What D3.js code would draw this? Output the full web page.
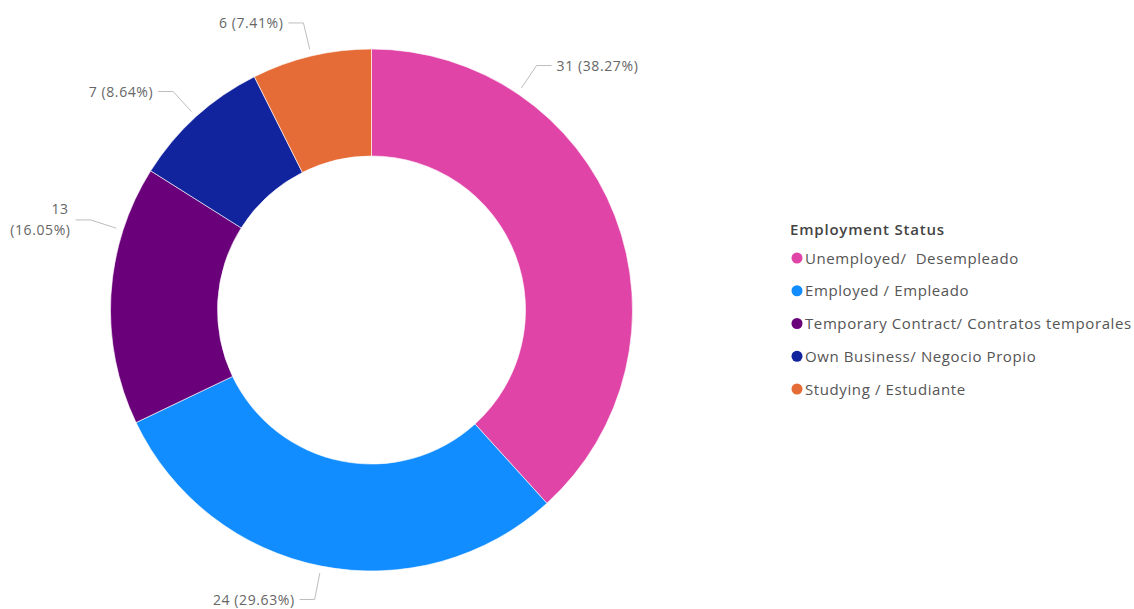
<!DOCTYPE html>
<html>
<head>
<meta charset="utf-8">
<script src="https://cdn.jsdelivr.net/npm/d3@7"></script>
<style>
  html, body { margin: 0; padding: 0; background: #fff; }
  svg { display: block; font-family: "Open Sans", "Noto Sans", sans-serif; }
</style>
</head>
<body>
<svg id="chart" width="1134" height="609"></svg>
<script>
// Employment status breakdown
const categories = [
  "Unemployed/  Desempleado",
  "Employed / Empleado",
  "Temporary Contract/ Contratos temporales",
  "Own Business/ Negocio Propio",
  "Studying / Estudiante"
];
const counts = [31, 24, 13, 7, 6];
const colors = ["#E044A7", "#118DFF", "#6B007B", "#12239E", "#E66C37"];
const legendTitle = "Employment Status";

const svg = d3.select("#chart");
const cx = 371.5, cy = 310;
const outerR = 261, innerR = 154;

const total = d3.sum(counts);
const data = categories.map((c, i) => ({ name: c, value: counts[i], color: colors[i] }));

const pie = d3.pie().value(d => d.value).sort(null);
const arcs = pie(data);
const arc = d3.arc().innerRadius(innerR).outerRadius(outerR);

const g = svg.append("g").attr("transform", `translate(${cx},${cy})`);

g.selectAll("path.slice")
  .data(arcs)
  .join("path")
  .attr("class", "slice")
  .attr("d", arc)
  .attr("fill", d => d.data.color)
  .attr("stroke", "rgba(255,255,255,0.6)")
  .attr("stroke-width", 1);

// Where along each slice the leader line attaches (fraction of the slice's sweep);
// the large and mid-left slices are nudged so their labels clear the others.
const anchorFrac = [0.247, 0.5, 0.75, 0.5, 0.5];
const fmtPct = d3.format(".2%");

arcs.forEach((a, i) => {
  const ang = a.startAngle + (a.endAngle - a.startAngle) * anchorFrac[i];
  const sx = Math.sin(ang), sy = -Math.cos(ang);
  const r1 = outerR + 7, r2 = outerR + 34;
  const p1 = [sx * r1, sy * r1];
  const p2 = [sx * r2, sy * r2];
  const right = sx >= 0;
  const p3 = [p2[0] + (right ? 15 : -15), p2[1]];
  g.append("polyline")
    .attr("points", [p1, p2, p3].map(p => p.join(",")).join(" "))
    .attr("fill", "none")
    .attr("stroke", "#bdbdbd")
    .attr("stroke-width", 1);

  const tx = p3[0] + (right ? 5 : -5);
  const label = `${a.data.value} (${fmtPct(a.data.value / total)})`;
  const t = g.append("text")
    .attr("x", tx)
    .attr("text-anchor", right ? "start" : "end")
    .attr("font-size", 14)
    .attr("letter-spacing", 0.6)
    .attr("fill", "#666");
  // The slice on the far left has little room, so its label wraps onto two lines
  if (i === 2) {
    t.append("tspan").attr("x", tx - 2).attr("y", p3[1] - 6).text(`${a.data.value}`);
    t.append("tspan").attr("x", tx).attr("y", p3[1] + 15).text(`(${fmtPct(a.data.value / total)})`);
  } else {
    t.attr("y", p3[1] + 5.5).text(label);
  }
});

// Legend
const lg = svg.append("g").attr("transform", "translate(790,0)");
lg.append("text")
  .attr("x", 0).attr("y", 235)
  .attr("font-size", 15).attr("font-weight", 600)
  .attr("letter-spacing", 0.8)
  .attr("fill", "#444")
  .text(legendTitle);

const rowY = d3.scalePoint().domain(categories).range([258, 389]);
const items = lg.selectAll("g.item").data(data).join("g").attr("class", "item")
  .attr("transform", d => `translate(0,${rowY(d.name)})`);
items.append("circle").attr("cx", 7).attr("cy", 0).attr("r", 5.5).attr("fill", d => d.color);
items.append("text")
  .attr("x", 15).attr("y", 5.5)
  .attr("font-size", 15).attr("fill", "#555")
  .attr("letter-spacing", 0.6)
  .attr("xml:space", "preserve")
  .style("white-space", "pre")
  .text(d => d.name);
</script>
</body>
</html>
